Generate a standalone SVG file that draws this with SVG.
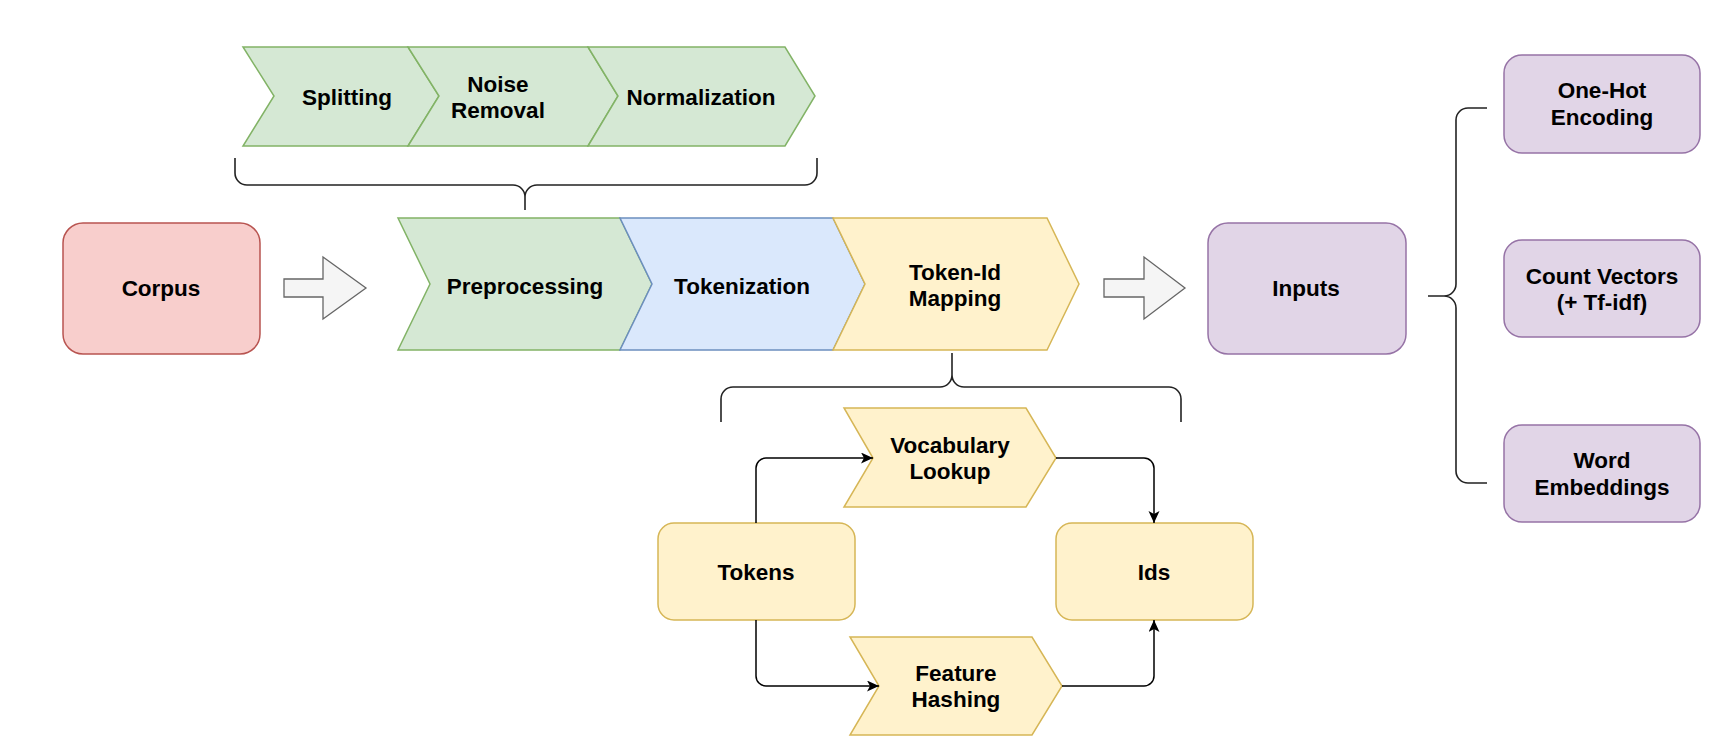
<svg xmlns="http://www.w3.org/2000/svg" width="1721" height="750" viewBox="0 0 1721 750">
<style>
text{font-family:"Liberation Sans",Arial,Helvetica,sans-serif;font-weight:bold;font-size:22.5px;fill:#000;text-anchor:middle;dominant-baseline:central}
.green{fill:#d5e8d4;stroke:#82b366;stroke-width:1.5}
.blue{fill:#dae8fc;stroke:#6c8ebf;stroke-width:1.5}
.yellow{fill:#fff2cc;stroke:#d6b656;stroke-width:1.5}
.purple{fill:#e1d5e7;stroke:#9673a6;stroke-width:1.5}
.red{fill:#f8cecc;stroke:#b85450;stroke-width:1.5}
.block{fill:#f5f5f5;stroke:#666666;stroke-width:1.3}
.brace{fill:none;stroke:#222;stroke-width:1.6}
.edge{fill:none;stroke:#000;stroke-width:1.5}
</style>
<defs>
<marker id="arr" markerUnits="userSpaceOnUse" markerWidth="14" markerHeight="12" refX="12" refY="5.5" orient="auto">
<path d="M0,0 L12,5.5 L0,11 L3,5.5 Z" fill="#000"/>
</marker>
</defs>
<rect width="1721" height="750" fill="#fff"/>

<g id="splitting"><path class="green" d="M243,47 L408,47 L439,96 L408,146 L243,146 L274,96 Z"/><text x="347" y="97">Splitting</text></g>
<g id="noise-removal"><path class="green" d="M408,47 L588,47 L618,96 L588,146 L408,146 L439,96 Z"/><text x="498" y="84">Noise</text><text x="498" y="110">Removal</text></g>
<g id="normalization"><path class="green" d="M588,47 L785,47 L815,96 L785,146 L588,146 L618,96 Z"/><text x="701" y="97">Normalization</text></g>

<g id="corpus"><rect class="red" x="63" y="223" width="197" height="131" rx="20"/><text x="161" y="288">Corpus</text></g>
<g id="arrow1"><path class="block" d="M284,279 L323,279 L323,257 L366,288 L323,319 L323,297 L284,297 Z"/></g>

<g id="preprocessing"><path class="green" d="M398,218 L620,218 L652,284 L620,350 L398,350 L430,284 Z"/><text x="525" y="286">Preprocessing</text></g>
<g id="tokenization"><path class="blue" d="M620,218 L833,218 L865,284 L833,350 L620,350 L652,284 Z"/><text x="742" y="286">Tokenization</text></g>
<g id="token-id-mapping"><path class="yellow" d="M833,218 L1047,218 L1079,284 L1047,350 L833,350 L865,284 Z"/><text x="955" y="272">Token-Id</text><text x="955" y="298">Mapping</text></g>

<g id="arrow2"><path class="block" d="M1104,279 L1144,279 L1144,257 L1185,288 L1144,319 L1144,297 L1104,297 Z"/></g>
<g id="inputs"><rect class="purple" x="1208" y="223" width="198" height="131" rx="20"/><text x="1306" y="288">Inputs</text></g>

<g id="one-hot"><rect class="purple" x="1504" y="55" width="196" height="98" rx="18"/><text x="1602" y="90">One-Hot</text><text x="1602" y="117">Encoding</text></g>
<g id="count-vectors"><rect class="purple" x="1504" y="240" width="196" height="97" rx="18"/><text x="1602" y="276">Count Vectors</text><text x="1602" y="302">(+ Tf-idf)</text></g>
<g id="word-embeddings"><rect class="purple" x="1504" y="425" width="196" height="97" rx="18"/><text x="1602" y="460">Word</text><text x="1602" y="487">Embeddings</text></g>

<g id="vocabulary-lookup"><path class="yellow" d="M844,408 L1026,408 L1056,458 L1026,507 L844,507 L873,458 Z"/><text x="950" y="445">Vocabulary</text><text x="950" y="471">Lookup</text></g>
<g id="feature-hashing"><path class="yellow" d="M850,637 L1032,637 L1062,686 L1032,735 L850,735 L879,686 Z"/><text x="956" y="673">Feature</text><text x="956" y="699">Hashing</text></g>
<g id="tokens"><rect class="yellow" x="658" y="523" width="197" height="97" rx="16"/><text x="756" y="572">Tokens</text></g>
<g id="ids"><rect class="yellow" x="1056" y="523" width="197" height="97" rx="16"/><text x="1154" y="572">Ids</text></g>

<g id="connectors">
<path class="brace" d="M235,158 L235,173 A12,12 0 0 0 247,185 L513,185 A12,12 0 0 1 525,197 L525,210 M817,158 L817,173 A12,12 0 0 1 805,185 L537,185 A12,12 0 0 0 525,197"/>
<path class="brace" d="M721,422 L721,399 A12,12 0 0 1 733,387 L940,387 A12,12 0 0 0 952,375 L952,353 M1181,422 L1181,399 A12,12 0 0 0 1169,387 L964,387 A12,12 0 0 1 952,375"/>
<path class="brace" d="M1487,108 L1468,108 A12,12 0 0 0 1456,120 L1456,284 A12,12 0 0 1 1444,296 L1428,296 M1487,483 L1468,483 A12,12 0 0 1 1456,471 L1456,308 A12,12 0 0 0 1444,296"/>
<path class="edge" marker-end="url(#arr)" d="M756,523 L756,468 A10,10 0 0 1 766,458 L873,458"/>
<path class="edge" marker-end="url(#arr)" d="M1056,458 L1144,458 A10,10 0 0 1 1154,468 L1154,523"/>
<path class="edge" marker-end="url(#arr)" d="M756,620 L756,676 A10,10 0 0 0 766,686 L879,686"/>
<path class="edge" marker-end="url(#arr)" d="M1062,686 L1144,686 A10,10 0 0 0 1154,676 L1154,620"/>
</g>
</svg>
